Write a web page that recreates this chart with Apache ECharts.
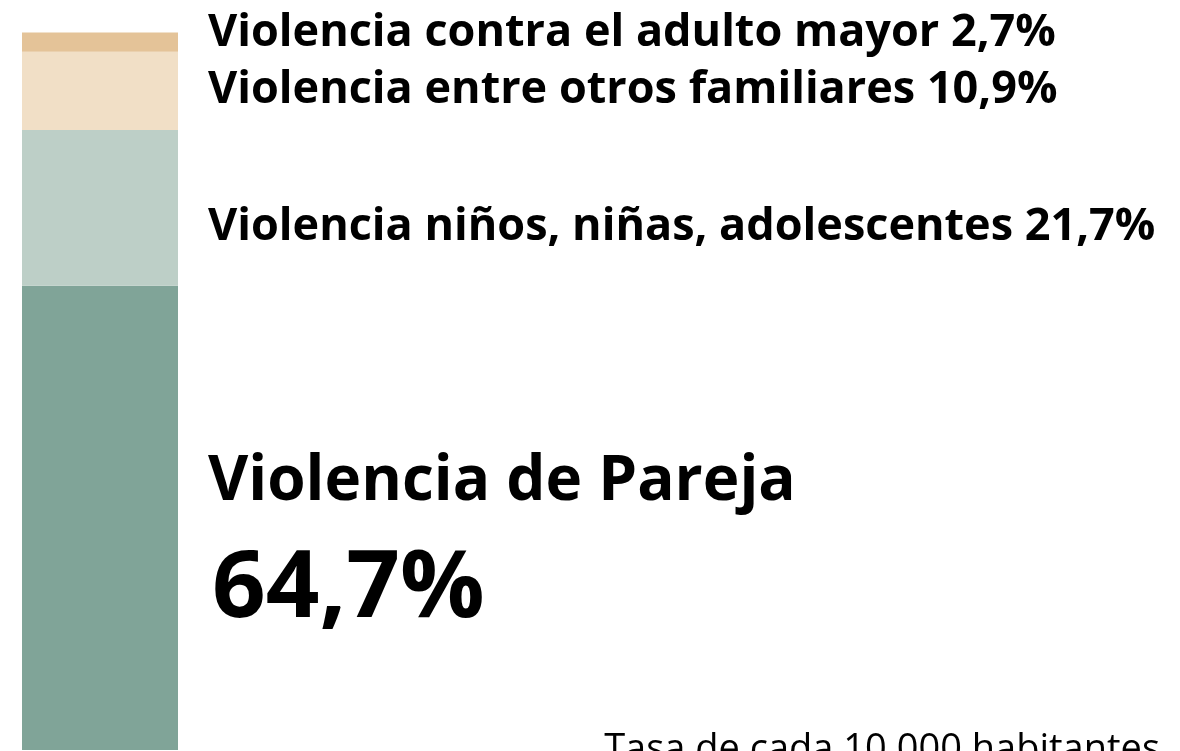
<!DOCTYPE html>
<html>
<head>
<meta charset="utf-8">
<script src="https://cdn.jsdelivr.net/npm/echarts@6/dist/echarts.min.js"></script>
<style>
  html, body { margin: 0; padding: 0; background: #fff; }
  #main { width: 1180px; height: 751px; }
</style>
</head>
<body>
<div id="main"></div>
<script>
// stacked from the bottom up
const categories = ['Total'];
const segmentNames = [
  'Violencia de Pareja',
  'Violencia niños, niñas, adolescentes',
  'Violencia entre otros familiares',
  'Violencia contra el adulto mayor'
];
const segmentValues = [64.7, 21.7, 10.9, 2.7];
const segmentLabels = ['64,7%', '21,7%', '10,9%', '2,7%'];
const noteText = 'Tasa de cada 10.000 habitantes';

const colors = ['#80a498', '#bdcfc7', '#f1dfc6', '#e4c398'];

const chart = echarts.init(document.getElementById('main'), null, { renderer: 'canvas' });

const series = segmentValues.map((v, i) => ({
  name: segmentNames[i],
  type: 'bar',
  stack: 'total',
  barWidth: '100%',
  itemStyle: { color: colors[i] },
  data: [v]
}));

const bold = { fontFamily: 'Open Sans', fontWeight: 'bold', fill: '#000' };

const option = {
  animation: false,
  grid: { left: 22, width: 156, top: 32.5, bottom: 1 },
  xAxis: { type: 'category', data: categories, show: false },
  yAxis: { type: 'value', min: 0, max: 100, show: false },
  series: series,
  graphic: [
    { type: 'text', left: 208, top: 11, style: Object.assign({ text: segmentNames[3] + ' ' + segmentLabels[3], fontSize: 45 }, bold) },
    { type: 'text', left: 208, top: 68, style: Object.assign({ text: segmentNames[2] + ' ' + segmentLabels[2], fontSize: 45 }, bold) },
    { type: 'text', left: 208, top: 205, style: Object.assign({ text: segmentNames[1] + ' ' + segmentLabels[1], fontSize: 45 }, bold) },
    { type: 'text', left: 208, top: 451, style: Object.assign({ text: segmentNames[0], fontSize: 62 }, bold) },
    { type: 'text', left: 212, top: 543, style: Object.assign({ text: segmentLabels[0], fontSize: 94 }, bold) },
    { type: 'text', right: 20, top: 731, style: { text: noteText, fontFamily: 'Open Sans', fontSize: 38, fill: '#000' } }
  ]
};

chart.setOption(option);
</script>
</body>
</html>
